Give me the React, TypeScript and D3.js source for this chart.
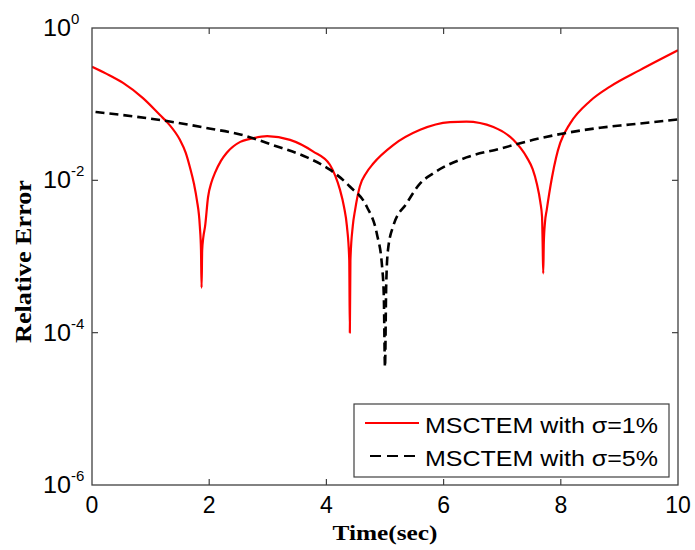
import React from 'react';
import * as d3 from 'd3';

// σ = 1% series (time in sec, relative error)
const timeRed = [0, 0.25, 0.53, 0.87, 1.16, 1.3, 1.5, 1.6, 1.67, 1.74, 1.79, 1.84, 1.86, 1.87, 1.88, 1.9, 1.93, 1.98, 2.04, 2.1, 2.2, 2.3, 2.53, 2.7, 2.99, 3.38, 3.77, 4.06, 4.15, 4.23, 4.3, 4.35, 4.39, 4.4, 4.41, 4.45, 4.49, 4.57, 4.68, 4.8, 5.14, 5.6, 6.11, 6.39, 6.85, 7.19, 7.42, 7.52, 7.59, 7.65, 7.68, 7.69, 7.7, 7.71, 7.73, 7.76, 7.85, 7.92, 7.99, 8.16, 8.5, 8.84, 9.35, 10];
const errRed = [0.31, 0.25, 0.19, 0.12, 0.072, 0.056, 0.034, 0.023, 0.015, 0.009, 0.0055, 0.0025, 0.0012, 0.00039, 0.0012, 0.0018, 0.0025, 0.006, 0.0095, 0.0126, 0.018, 0.023, 0.032, 0.035, 0.038, 0.034, 0.024, 0.016, 0.0115, 0.0076, 0.0045, 0.0025, 0.0009, 0.0001, 0.0009, 0.0025, 0.0041, 0.0083, 0.0125, 0.0166, 0.029, 0.046, 0.058, 0.059, 0.05, 0.034, 0.02, 0.014, 0.0091, 0.0052, 0.0033, 0.0015, 0.0006, 0.0015, 0.0028, 0.0041, 0.011, 0.02, 0.031, 0.056, 0.11, 0.17, 0.28, 0.51];

// σ = 5% series
const timeBlack = [0.06, 1.28, 2.0, 2.53, 3.09, 3.67, 4.06, 4.4, 4.69, 4.86, 4.95, 4.98, 5.0, 5.02, 5.05, 5.14, 5.37, 5.6, 5.82, 6.39, 6.96, 7.53, 8.1, 8.67, 9.18, 10];
const errBlack = [0.079, 0.06, 0.048, 0.04, 0.029, 0.02, 0.0138, 0.0083, 0.0045, 0.002, 0.00074, 0.0003, 0.0000355, 0.0004, 0.0012, 0.0025, 0.005, 0.0091, 0.0123, 0.02, 0.026, 0.034, 0.042, 0.049, 0.054, 0.063];

const xTicks = [0, 2, 4, 6, 8, 10];
const yTickExps = [0, -2, -4, -6];
const legendLabels = ['MSCTEM with σ=1%', 'MSCTEM with σ=5%'];
const xLabel = 'Time(sec)';
const yLabel = 'Relative Error';

export default function App() {
  const W = 695, H = 550;
  const L = 92, T = 28, R = 678, B = 485;
  const x = d3.scaleLinear().domain([0, 10]).range([L, R]);
  const y = d3.scaleLog().domain([1e-6, 1]).range([B, T]);
  const line = d3.line<[number, number]>().x(d => x(d[0])).y(d => y(d[1])).curve(d3.curveMonotoneX);
  const redPts = timeRed.map((t, i) => [t, errRed[i]] as [number, number]);
  const blackPts = timeBlack.map((t, i) => [t, errBlack[i]] as [number, number]);
  const axisColor = '#404040';
  const tickFont = 'Arial, "Liberation Sans", sans-serif';
  const serif = '"Times New Roman", "Liberation Serif", serif';

  return (
    <svg width={W} height={H} style={{ position: 'absolute', left: 0, top: 0, background: '#fff' }}>
      <defs>
        <clipPath id="plotclip">
          <rect x={L} y={T} width={R - L} height={B - T} />
        </clipPath>
      </defs>
      <rect x={0} y={0} width={W} height={H} fill="#fff" />
      {/* curves */}
      <g clipPath="url(#plotclip)">
        <path d={line(redPts) || ''} fill="none" stroke="#ff0000" strokeWidth={2.2} strokeLinejoin="round" />
        <path d={line(blackPts) || ''} fill="none" stroke="#000" strokeWidth={2.6} strokeDasharray="9,5" />
      </g>
      {/* box */}
      <rect x={L} y={T} width={R - L} height={B - T} fill="none" stroke={axisColor} strokeWidth={1.3} />
      {/* x ticks */}
      {xTicks.map(t => (
        <g key={'xt' + t}>
          {t > 0 && t < 10 && (
            <>
              <line x1={x(t)} x2={x(t)} y1={B} y2={B - 6} stroke={axisColor} strokeWidth={1.2} />
              <line x1={x(t)} x2={x(t)} y1={T} y2={T + 6} stroke={axisColor} strokeWidth={1.2} />
            </>
          )}
          <text x={x(t)} y={513} textAnchor="middle" fontFamily={tickFont} fontSize={23}>{t}</text>
        </g>
      ))}
      {/* y ticks */}
      {yTickExps.map(e => {
        const yy = y(Math.pow(10, e));
        return (
          <g key={'yt' + e}>
            {e > -6 && e < 0 && (
              <>
                <line x1={L} x2={L + 6} y1={yy} y2={yy} stroke={axisColor} strokeWidth={1.2} />
                <line x1={R} x2={R - 6} y1={yy} y2={yy} stroke={axisColor} strokeWidth={1.2} />
              </>
            )}
            <text x={43} y={yy + 8} fontFamily={tickFont} fontSize={23}>
              <tspan textLength={28} lengthAdjust="spacingAndGlyphs">10</tspan>
              <tspan dy={-12} fontSize={15}>{e}</tspan>
            </text>
          </g>
        );
      })}
      {/* axis labels */}
      <text x={(L + R) / 2} y={540} textAnchor="middle" fontFamily={serif} fontWeight="bold" fontSize={22}
        textLength={105} lengthAdjust="spacingAndGlyphs">{xLabel}</text>
      <text transform={`translate(31,${(T + B) / 2 + 5}) rotate(-90)`} textAnchor="middle" fontFamily={serif}
        fontWeight="bold" fontSize={23} textLength={163} lengthAdjust="spacingAndGlyphs">{yLabel}</text>
      {/* legend */}
      <rect x={354} y={404} width={315} height={73} fill="#fff" stroke={axisColor} strokeWidth={1.2} />
      <line x1={365} x2={419} y1={423} y2={423} stroke="#ff0000" strokeWidth={2.2} />
      <line x1={370} x2={419} y1={456} y2={456} stroke="#000" strokeWidth={2.2} strokeDasharray="11,6" />
      {legendLabels.map((lab, i) => (
        <text key={lab} x={425} y={433 + i * 33} fontFamily={tickFont} fontSize={22}
          textLength={233} lengthAdjust="spacingAndGlyphs">{lab}</text>
      ))}
    </svg>
  );
}
